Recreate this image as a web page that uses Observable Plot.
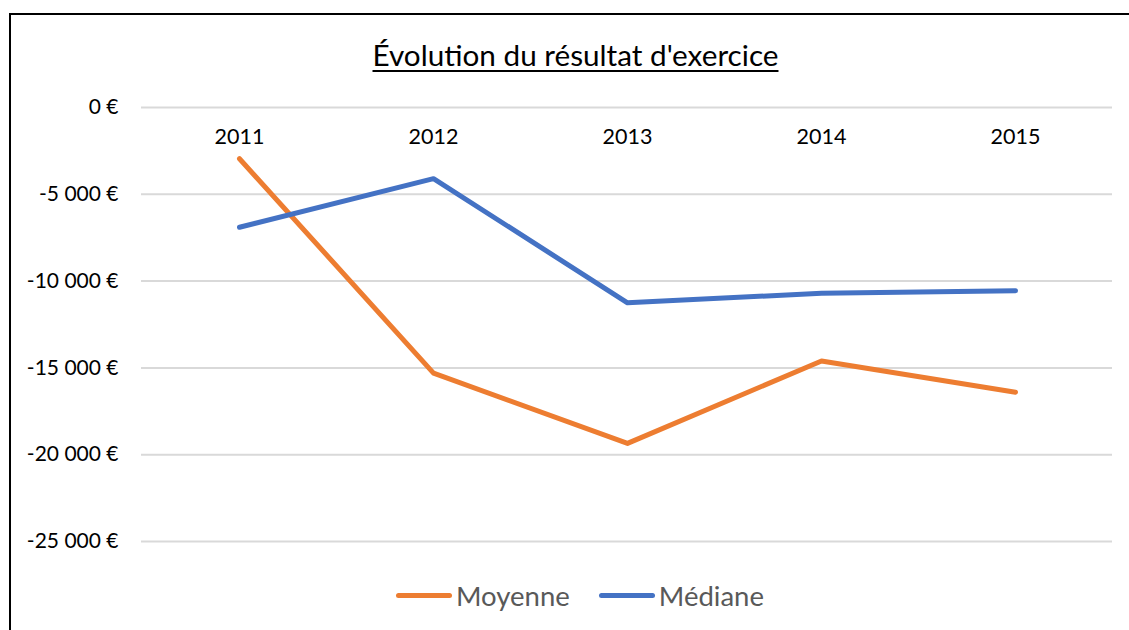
<!DOCTYPE html>
<html>
<head>
<meta charset="utf-8">
<script src="https://cdn.jsdelivr.net/npm/d3@7"></script>
<script src="https://cdn.jsdelivr.net/npm/@observablehq/plot@0.6"></script>
<style>
  html, body { margin: 0; padding: 0; background: #fff; width: 1129px; height: 630px; overflow: hidden; position: relative; }
  body { font-family: Lato, "Open Sans", sans-serif; }
  #frame { position: absolute; left: 9px; top: 13px; width: 1200px; height: 700px; border-top: 2px solid #000; border-left: 2px solid #000; box-sizing: border-box; }
  #title { position: absolute; top: 37px; left: 0; width: 1151px; text-align: center; font-size: 29.7px; color: #000; text-decoration: underline; text-decoration-thickness: 1.5px; text-underline-offset: 4px; }
  #chart { position: absolute; left: 0; top: 80px; }
  #legend { position: absolute; top: 579px; left: 396px; display: flex; align-items: center; font-size: 27.5px; color: #595959; }
  .item { display: flex; align-items: center; margin-right: 29px; }
  .sw { width: 56px; height: 5px; border-radius: 3px; margin-right: 4px; }
</style>
</head>
<body>
<div id="frame"></div>
<div id="title">Évolution du résultat d'exercice</div>
<div id="chart"></div>
<div id="legend"></div>
<script>
const years = ["2011", "2012", "2013", "2014", "2015"];
const moyenne = [-2950, -15300, -19350, -14600, -16400];
const mediane = [-6900, -4100, -11250, -10700, -10550];
const seriesNames = ["Moyenne", "Médiane"];
const seriesColors = ["#ED7D31", "#4472C4"];
const yTicks = [0, -5000, -10000, -15000, -20000, -25000];

const rows = [];
years.forEach((yr, i) => {
  rows.push({year: yr, value: moyenne[i], series: seriesNames[0]});
  rows.push({year: yr, value: mediane[i], series: seriesNames[1]});
});

const locale = d3.formatLocale({decimal: ",", thousands: " ", grouping: [3], currency: ["", " €"], minus: "-"});
const fmt = locale.format("$,.0f");

const chart = Plot.plot({
  width: 1129,
  height: 481,
  marginTop: 27,
  marginBottom: 20,
  marginLeft: 141,
  marginRight: 17,
  style: {fontFamily: "Lato, 'Open Sans', sans-serif", fontSize: "21px", color: "#000", background: "transparent"},
  x: {type: "point", domain: years, padding: 0.5, axis: null},
  y: {domain: [-25000, 0], ticks: yTicks, tickFormat: fmt, axis: null, label: null},
  color: {domain: seriesNames, range: seriesColors},
  marks: [
    Plot.gridY(yTicks, {stroke: "#d9d9d9", strokeOpacity: 1, strokeWidth: 2}),
    Plot.axisY(yTicks, {tickSize: 0, tickPadding: 23, fontSize: 21, fill: "#000", tickFormat: fmt, label: null}),
    Plot.text(years, {x: d => d, y: 0, dy: 30, text: d => d, fontSize: 21.5, fill: "#000"}),
    Plot.line(rows, {x: "year", y: "value", z: "series", stroke: "series", strokeWidth: 5, strokeLinecap: "round", strokeLinejoin: "round"})
  ]
});
document.getElementById("chart").appendChild(chart);

const legend = document.getElementById("legend");
seriesNames.forEach((name, i) => {
  const item = document.createElement("div");
  item.className = "item";
  const sw = document.createElement("div");
  sw.className = "sw";
  sw.style.background = seriesColors[i];
  const lab = document.createElement("span");
  lab.textContent = name;
  item.appendChild(sw);
  item.appendChild(lab);
  legend.appendChild(item);
});
</script>
</body>
</html>
